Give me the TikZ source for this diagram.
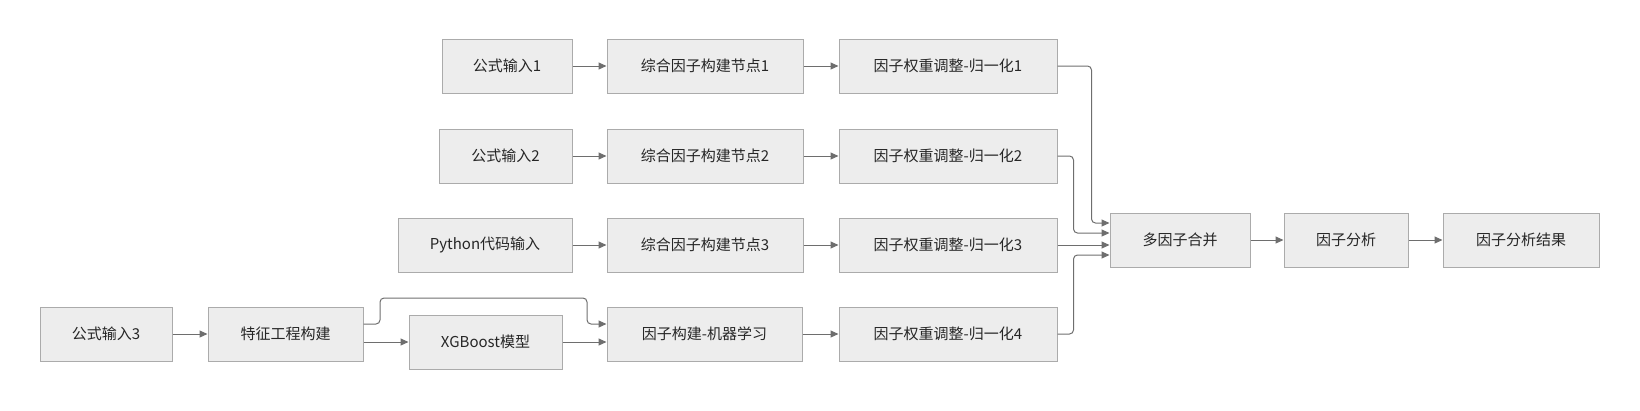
\documentclass[tikz,border=0pt]{standalone}
\usepackage{fontspec}
\setmainfont{Noto Sans CJK SC}
\usepackage{tikz}
\usetikzlibrary{arrows.meta,positioning}
\definecolor{boxfill}{HTML}{EDEDED}
\definecolor{boxline}{HTML}{ABABAB}
\definecolor{linkgray}{HTML}{6E6E6E}
\tikzset{
  every node/.style={
    font=\fontsize{15}{18}\selectfont
  },
  stage/.style={
    shape=rectangle,
    draw=boxline,
    line width=1pt,
    fill=boxfill,
    text=black!85,
    minimum height=54pt,
    inner sep=0pt
  },
  link/.style={
    draw=linkgray,
    line width=1pt,
    rounded corners=4pt,
    -{Triangle[length=8pt,width=7pt]}
  }
}

\begin{document}
\begin{tikzpicture}[x=1pt,y=-1pt]
    \useasboundingbox (0,0) rectangle (1640,410);
    % formula rows
    \node [stage, minimum width=130pt] (in1) at (507,66) {公式输入1};
    \node [stage, minimum width=196pt] (cfb1) at (705,66) {综合因子构建节点1};
    \node [stage, minimum width=218pt] (norm1) at (948,66) {因子权重调整-归一化1};
    \node [stage, minimum width=133pt] (in2) at (505.5,156) {公式输入2};
    \node [stage, minimum width=196pt] (cfb2) at (705,156) {综合因子构建节点2};
    \node [stage, minimum width=218pt] (norm2) at (948,156) {因子权重调整-归一化2};
    \node [stage, minimum width=174pt] (py) at (485,245) {Python代码输入};
    \node [stage, minimum width=196pt] (cfb3) at (705,245) {综合因子构建节点3};
    \node [stage, minimum width=218pt] (norm3) at (948,245) {因子权重调整-归一化3};
    % machine learning row
    \node [stage, minimum width=132pt] (in3) at (106,334) {公式输入3};
    \node [stage, minimum width=155pt] (feat) at (285.5,334) {特征工程构建};
    \node [stage, minimum width=153pt] (xgb) at (485.5,342) {XGBoost模型};
    \node [stage, minimum width=195pt] (ml) at (704.5,334) {因子构建-机器学习};
    \node [stage, minimum width=218pt] (norm4) at (948,334) {因子权重调整-归一化4};
    % merge and analysis
    \node [stage, minimum width=140pt] (merge) at (1180,240) {多因子合并};
    \node [stage, minimum width=124pt] (ana) at (1346,240) {因子分析};
    \node [stage, minimum width=156pt] (res) at (1521,240) {因子分析结果};

    \draw [link] (in1) -- (cfb1);
    \draw [link] (cfb1) -- (norm1);
    \draw [link] (in2) -- (cfb2);
    \draw [link] (cfb2) -- (norm2);
    \draw [link] (py) -- (cfb3);
    \draw [link] (cfb3) -- (norm3);
    \draw [link] (in3) -- (feat);
    \draw [link] ([yshift=10pt]feat.east) -| (380,298) -| (587,324) -- ([yshift=10pt]ml.west);
    \draw [link] ([yshift=-8pt]feat.east) -- (xgb.west);
    \draw [link] (xgb.east) -- ([yshift=-8pt]ml.west);
    \draw [link] (ml) -- (norm4);

    \draw [link] (norm1.east) -| ([xshift=-18pt,yshift=17pt]merge.west) -- ([yshift=17pt]merge.west);
    \draw [link] (norm2.east) -| ([xshift=-36pt,yshift=7pt]merge.west) -- ([yshift=7pt]merge.west);
    \draw [link] (norm3.east) -- (norm3.east -| merge.west);
    \draw [link] (norm4.east) -| ([xshift=-36pt,yshift=-15pt]merge.west) -- ([yshift=-15pt]merge.west);
    \draw [link] (merge) -- (ana);
    \draw [link] (ana) -- (res);
\end{tikzpicture}
\end{document}
